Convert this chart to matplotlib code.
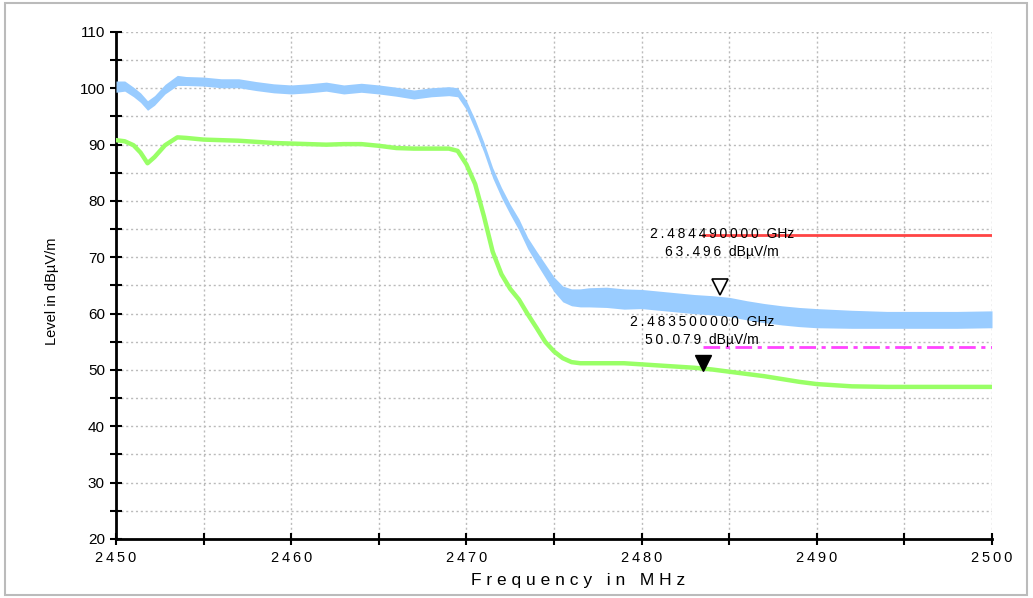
import matplotlib
matplotlib.use("Agg")
import matplotlib.pyplot as plt
from matplotlib.transforms import ScaledTranslation
from matplotlib.patches import Rectangle

plt.rcParams['font.family'] = ['Liberation Sans', 'DejaVu Sans']

# frekuensi (MHz) dan level (dBuV/m)
freq = [2450, 2450.5, 2451, 2451.4, 2451.8, 2452.2, 2452.8, 2453.5, 2454, 2455,
        2456, 2457, 2458, 2459, 2460, 2461, 2462, 2463, 2464, 2465, 2466, 2467,
        2468, 2469, 2469.5, 2470, 2470.5, 2471, 2471.5, 2472, 2472.5, 2473,
        2473.5, 2474, 2474.5, 2475, 2475.5, 2476, 2476.5, 2477, 2478, 2479,
        2480, 2481, 2482, 2483, 2484, 2485, 2486, 2487, 2488, 2489, 2490,
        2492, 2494, 2496, 2498, 2500]

# jejak peak (biru): batas atas dan bawah pita noise
peak_upper = [101.3, 101.3, 100.2, 99.2, 97.8, 98.7, 100.7, 102.3, 102.1, 102.0,
              101.7, 101.7, 101.2, 100.8, 100.6, 100.8, 101.1, 100.6, 100.9, 100.6, 100.2, 99.7,
              100.1, 100.3, 100.1, 97.8, 94.4, 90.4, 85.9, 82.4, 79.4, 76.8,
              73.5, 71.1, 68.8, 66.5, 64.9, 64.4, 64.4, 64.6, 64.7, 64.4,
              64.3, 64.0, 63.7, 63.4, 63.2, 62.9, 62.3, 61.8, 61.4, 61.1, 60.9,
              60.6, 60.4, 60.4, 60.4, 60.5]
peak_lower = [99.3, 99.5, 98.5, 97.5, 96.1, 97.0, 99.0, 100.5, 100.5, 100.4,
              100.1, 100.1, 99.6, 99.2, 99.0, 99.2, 99.5, 99.0, 99.3, 99.0, 98.6, 98.1,
              98.5, 98.7, 98.5, 96.2, 92.6, 88.6, 84.1, 80.6, 77.6, 74.8,
              71.5, 68.9, 66.4, 63.9, 62.1, 61.4, 61.2, 61.2, 61.1, 60.8,
              60.9, 60.6, 60.3, 60.0, 59.8, 59.5, 58.9, 58.4, 58.0, 57.7, 57.5,
              57.4, 57.4, 57.4, 57.4, 57.5]
# jejak average (hijau)
average = [90.8, 90.6, 89.9, 88.6, 86.7, 87.8, 89.9, 91.3, 91.2, 90.9,
           90.8, 90.7, 90.5, 90.3, 90.2, 90.1, 90.0, 90.1, 90.1, 89.8, 89.4, 89.3,
           89.3, 89.3, 88.9, 86.5, 83.0, 77.3, 71.0, 67.0, 64.4, 62.5,
           59.9, 57.5, 55.0, 53.3, 52.1, 51.4, 51.2, 51.2, 51.2, 51.2,
           51.0, 50.8, 50.6, 50.4, 50.1, 49.7, 49.3, 48.9, 48.4, 47.9, 47.5,
           47.1, 47.0, 47.0, 47.0, 47.0]

limit_freq = [2483.5, 2500]
peak_limit = [74, 74]
avg_limit = [54, 54]

mk_peak = (2484.49, 63.496)
mk_avg = (2483.5, 50.079)

x_ticks = list(range(2450, 2501, 5))
y_ticks = list(range(20, 111, 5))

def renggang(s):
    # huruf direnggangkan pakai thin space
    return "\u2009".join(s)

fig = plt.figure(figsize=(10.33, 5.98), dpi=100)
ax = fig.add_axes([116/1033, 1 - 539/598, (992-116)/1033, (539-32)/598])

fig.patches.append(Rectangle((5/1033, 3/598), 1022/1033, 592/598, transform=fig.transFigure,
                             fill=False, edgecolor='#bbbbbb', linewidth=1.5))

ax.fill_between(freq, peak_lower, peak_upper, color='#99ccff', linewidth=0, zorder=3)
ax.plot(freq, average, color='#99ff66', linewidth=3.2, zorder=3)
ax.plot(limit_freq, peak_limit, color='#ff4444', linewidth=2, zorder=4)
ax.plot(limit_freq, avg_limit, color='#ff44ff', linewidth=2, linestyle=(0, (6, 2, 1.5, 2)), zorder=4)

# marker: ujung segitiga di titik data
geser = ScaledTranslation(0, 5/72, fig.dpi_scale_trans)
ax.plot(*mk_peak, marker='v', markersize=11, markerfacecolor='white', markeredgecolor='black',
        markeredgewidth=1.2, transform=ax.transData + geser, zorder=6)
ax.plot(*mk_avg, marker='v', markersize=11, color='black', transform=ax.transData + geser, zorder=6)

ax.text(2484.6, 74.1, renggang("2.484490000") + "  GHz", ha='center', va='center', fontsize=10, zorder=7)
ax.text(2484.6, 70.9, renggang("63.496") + "  dBµV/m", ha='center', va='center', fontsize=10, zorder=7)
ax.text(2483.45, 58.5, renggang("2.483500000") + "  GHz", ha='center', va='center', fontsize=10, zorder=7)
ax.text(2483.45, 55.3, renggang("50.079") + "  dBµV/m", ha='center', va='center', fontsize=10, zorder=7)

ax.set_xlim(2450, 2500)
ax.set_ylim(20, 110)
ax.set_xticks(x_ticks)
ax.set_xticklabels([renggang(str(v)) if v % 10 == 0 else '' for v in x_ticks])
ax.set_yticks(y_ticks)
ax.set_yticklabels([str(v) if v % 10 == 0 else '' for v in y_ticks])
ax.tick_params(direction='inout', length=9, width=1.5, labelsize=11, colors='black')
ax.tick_params(axis='x', labelsize=10.5, pad=4)
ax.grid(True, color='#bbbbbb', linestyle=(0, (1.5, 2)), linewidth=1)
ax.set_axisbelow(True)

for s in ['top', 'right']:
    ax.spines[s].set_visible(False)
for s in ['left', 'bottom']:
    ax.spines[s].set_linewidth(2)

fig.text(578/1033, 1 - 580/598, "F r e q u e n c y   i n   M H z", ha='center', va='center', fontsize=12.5)
fig.text(52/1033, 1 - 291/598, "Level in dBµV/m", rotation=90, ha='center', va='center', fontsize=10.5)

fig.savefig("out.png", dpi=100)
